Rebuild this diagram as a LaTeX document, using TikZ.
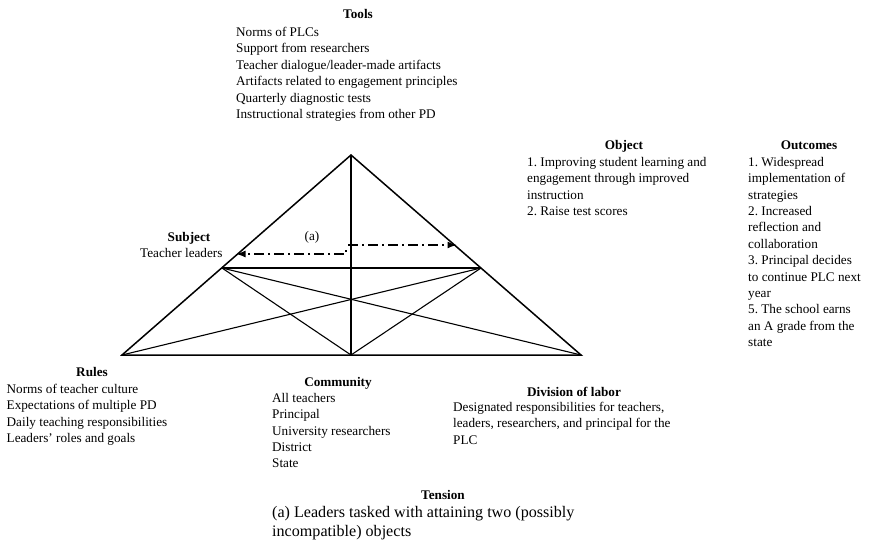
\documentclass[tikz,border=0pt]{standalone}
\usepackage{fontspec}
\setmainfont{Liberation Serif}
\usetikzlibrary{arrows.meta, positioning}
\frenchspacing

\begin{document}
\begin{tikzpicture}[x=1pt, y=-1pt, >={Latex[length=9.5pt,width=7pt]},
  head/.style={font=\fontsize{13.2}{16.4}\selectfont\bfseries, anchor=base, inner sep=0pt},
  items/.style={font=\fontsize{13.2}{16.4}\selectfont, anchor=north west, align=left, inner sep=0pt},
  triedge/.style={line width=1.5pt, line join=miter},
  spine/.style={line width=2pt},
  crossline/.style={line width=1.1pt},
  dashdot/.style={line width=1.8pt, dash pattern=on 10pt off 4pt on 2pt off 4pt}]
\useasboundingbox (0,0) rectangle (869,543);
% triangle corners
\coordinate (apex) at (351,155);
\coordinate (botL) at (122,355);
\coordinate (botM) at (351,355);
\coordinate (botR) at (581,355);
\coordinate (midL) at (222,268);
\coordinate (midR) at (481,268);
\draw[triedge] (botL) -- (apex) -- (botR) -- cycle;
\draw[spine] (apex) -- (botM);
\draw[crossline] (midL) -- (midR);
\draw[crossline] (midL) -- (botM) -- (midR);
\draw[crossline] (midL) -- (botR);
\draw[crossline] (midR) -- (botL);
% tension arrows
\coordinate (tsplit) at (346,246);
\coordinate (tleft) at (236,254);
\coordinate (tstart) at (348,245);
\coordinate (tright) at (457,245);
\draw[dashdot,->,dash phase=10pt] (tsplit) |- (tleft);
\draw[dashdot,->] (tstart) -- (tright);
\node[font=\fontsize{13.2}{16.4}\selectfont, inner sep=0pt, anchor=base] (tmark) at (312,240.5) {(a)};
% tools
\node[head] (toolsT) at (358,19) {Tools};
\node[items] (tools) at (236,27) {Norms of PLCs\\Support from researchers\\Teacher dialogue/leader-made artifacts\\Artifacts related to engagement principles\\Quarterly diagnostic tests\\Instructional strategies from other PD};
% object
\node[head] (objectT) at (624,149) {Object};
\node[items] (object) at (527,157) {1. Improving student learning and\\engagement through improved\\instruction\\2. Raise test scores};
% outcomes
\node[head] (outcomesT) at (809,149) {Outcomes};
\node[items] (outcomes) at (748,157) {1. Widespread\\implementation of\\strategies\\2. Increased\\reflection and\\collaboration\\3. Principal decides\\to continue PLC next\\year\\5. The school earns\\an A grade from the\\state};
% subject
\node[head] (subjectT) at (189,241.5) {Subject};
\node[items, anchor=base west] (subject) at (140,257) {Teacher leaders};
% rules
\node[head] (rulesT) at (92,376) {Rules};
\node[items] (rules) at (6.5,384) {Norms of teacher culture\\Expectations of multiple PD\\Daily teaching responsibilities\\Leaders’ roles and goals};
% community
\node[head] (communityT) at (338,386) {Community};
\node[items] (community) at (272,393) {All teachers\\Principal\\University researchers\\District\\State};
% division of labor
\node[head] (laborT) at (574,396) {Division of labor};
\node[items] (labor) at (453,402) {Designated responsibilities for teachers,\\leaders, researchers, and principal for the\\PLC};
% tension
\node[head] (tensionT) at (443,499) {Tension};
\node[items, font=\fontsize{16.1}{19.5}\selectfont] (tensionI) at (272,506) {(a) Leaders tasked with attaining two (possibly\\incompatible) objects};
\end{tikzpicture}
\end{document}
